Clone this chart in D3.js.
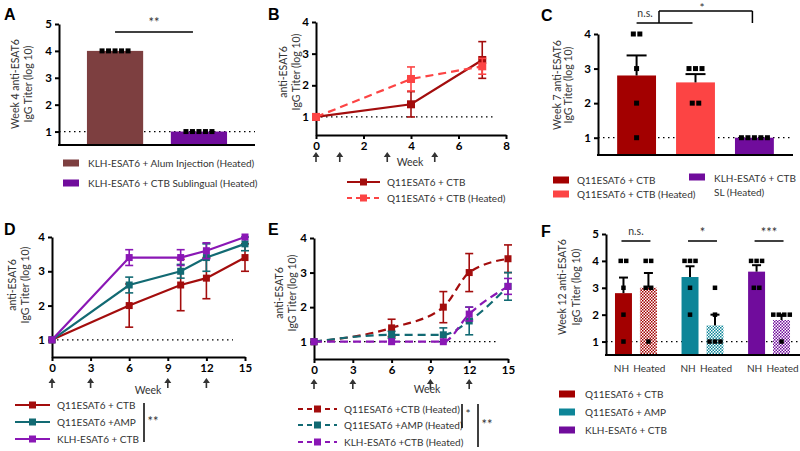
<!DOCTYPE html>
<html lang="en">
<head>
<meta charset="UTF-8">
<title>anti-ESAT6 IgG titers</title>
<script src="https://d3js.org/d3.v7.min.js"></script>
<style>
  body { margin: 0; background: #fff; }
  svg { display: block; font-family: Lato, sans-serif; }
  .tick text { font-weight: bold; font-size: 11.5px; fill: #000; font-family: Lato, sans-serif; }
  .lab { font-size: 10.5px; fill: #333; }
  .leg { font-size: 10px; fill: #333; }
  .panel { font-size: 16px; font-weight: bold; font-family: 'Liberation Sans', Arial, sans-serif; }
</style>
</head>
<body>
<div id="chart"></div>
<script>
// ---- data ----
const aGroups = ["KLH-ESAT6 + Alum Injection (Heated)", "KLH-ESAT6 + CTB Sublingual (Heated)"];
const aMeans = [4, 1];
const aPoints = [[4, 4, 4, 4, 4], [1, 1, 1, 1, 1]];
const aColors = ["#7d3f40", "#700c9c"];

const bWeeks = [0, 4, 7];
const bSeries = ["Q11ESAT6 + CTB", "Q11ESAT6 + CTB (Heated)"];
const bMeans = [[1, 1.4, 2.8], [1, 2.2, 2.6]];
const bErr = [[0, 0.4, 0.58], [0, 0.38, 0.25]];
const bColors = ["#a30d0d", "#fc4444"];
const bArrows = [0, 1, 3, 5];

const cGroups = ["Q11ESAT6 + CTB", "Q11ESAT6 + CTB (Heated)", "KLH-ESAT6 + CTB SL (Heated)"];
const cMeans = [2.8, 2.6, 1.0];
const cErr = [0.58, 0.24, 0];
const cPoints = [[4, 4, 3, 2, 1], [3, 3, 3, 2, 2], [1, 1, 1, 1, 1]];
const cColors = ["#a30000", "#fc4444", "#700c9c"];

const dWeeks = [0, 6, 10, 12, 15];
const dSeries = ["Q11ESAT6 + CTB", "Q11ESAT6 +AMP", "KLH-ESAT6 + CTB"];
const dMeans = [[1, 2, 2.6, 2.8, 3.4], [1, 2.6, 3.0, 3.4, 3.8], [1, 3.4, 3.4, 3.6, 4.0]];
const dErr = [[0, 0.63, 0.75, 0.6, 0.4], [0, 0.23, 0.2, 0.4, 0.2], [0, 0.23, 0.23, 0.23, 0]];

const eSeries = ["Q11ESAT6 +CTB (Heated)", "Q11ESAT6 +AMP (Heated)", "KLH-ESAT6 +CTB (Heated)"];
const eMeans = [[1, 1.4, 2.0, 3.0, 3.4], [1, 1.2, 1.2, 1.6, 2.6], [1, 1.0, 1.0, 1.8, 2.6]];
const eErr = [[0, 0.25, 0.45, 0.55, 0.4], [0, 0.1, 0.2, 0.4, 0.4], [0, 0, 0, 0.2, 0.23]];
const deColors = ["#a30d0d", "#126a73", "#8a17b5"];
const deArrows = [0, 3, 9, 12];

const fGroups = ["Q11ESAT6 + CTB", "Q11ESAT6 + AMP", "KLH-ESAT6 + CTB"];
const fConds = ["NH", "Heated"];
const fNH = [2.8, 3.4, 3.6];
const fNHErr = [0.58, 0.4, 0.24];
const fHeated = [3.0, 1.6, 1.8];
const fHeatedErr = [0.55, 0.4, 0.2];
const fNHPoints = [[4, 4, 3, 2, 1], [4, 4, 4, 3, 2], [4, 4, 4, 3, 3]];
const fHeatedPoints = [[4, 4, 3, 3, 1], [3, 2, 1, 1, 1], [2, 2, 2, 2, 1]];
const fSig = ["n.s.", "*", "***"];
const fColors = ["#a30000", "#0d8598", "#700c9c"];

// ---- helpers ----
const svg = d3.select("#chart").append("svg").attr("width", 800).attr("height", 451);
const defs = svg.append("defs");

function leftAxis(x0, y, ticks) {
  const g = svg.append("g").attr("transform", `translate(${x0},0)`)
    .call(d3.axisLeft(y).tickValues(ticks).tickFormat(d3.format("d")).tickSize(4).tickSizeOuter(0));
  g.select(".domain").attr("stroke-width", 2);
  g.selectAll(".tick line").attr("stroke-width", 2);
  g.selectAll(".tick text").attr("x", -7);
}

function baseLine(x0, x1, yv) {
  svg.append("line").attr("x1", x0).attr("x2", x1).attr("y1", yv).attr("y2", yv)
    .attr("stroke", "#000").attr("stroke-width", 2);
}

function dottedOne(x0, x1, y) {
  svg.append("line").attr("x1", x0).attr("x2", x1).attr("y1", y(1)).attr("y2", y(1))
    .attr("stroke", "#000").attr("stroke-width", 1.3).attr("stroke-dasharray", "1.5,3.5");
}

function yLabel(lines, xs, cy) {
  lines.forEach((l, i) => {
    svg.append("text").attr("class", "lab")
      .attr("transform", `translate(${xs[i]},${cy}) rotate(-90)`)
      .attr("text-anchor", "middle").text(l);
  });
}

function panelLetter(t, x, y) {
  svg.append("text").attr("class", "panel").attr("x", x).attr("y", y).text(t);
}

function dots(cx, vals, y, size, gap) {
  const counts = d3.rollup(vals, v => v.length, d => d);
  const pts = [];
  counts.forEach((n, v) => {
    for (let i = 0; i < n; i++) pts.push({ x: cx + (i - (n - 1) / 2) * gap, y: y(v) });
  });
  svg.append("g").selectAll("rect").data(pts).join("rect")
    .attr("x", d => d.x - size / 2).attr("y", d => d.y - size / 2)
    .attr("width", size).attr("height", size).attr("fill", "#000");
}

function barErr(cx, mean, err, y, capW) {
  if (!err) return;
  const g = svg.append("g").attr("stroke", "#000").attr("stroke-width", 2);
  g.append("line").attr("x1", cx).attr("x2", cx).attr("y1", y(mean)).attr("y2", y(mean + err));
  g.append("line").attr("x1", cx - capW / 2).attr("x2", cx + capW / 2).attr("y1", y(mean + err)).attr("y2", y(mean + err));
}

function arrows(x, weeks, top) {
  svg.append("g").selectAll("path").data(weeks).join("path")
    .attr("d", w => {
      const cx = x(w);
      return `M${cx},${top}L${cx + 3.5},${top + 5}L${cx + 0.8},${top + 5}L${cx + 0.8},${top + 10}L${cx - 0.8},${top + 10}L${cx - 0.8},${top + 5}L${cx - 3.5},${top + 5}Z`;
    })
    .attr("fill", "#333");
}

function sigText(t, x, yv, size) {
  svg.append("text").attr("x", x).attr("y", yv).attr("text-anchor", "middle")
    .attr("font-size", size || 12).attr("fill", "#333").text(t);
}

function hLine(x1, x2, y1, y2, w) {
  svg.append("line").attr("x1", x1).attr("x2", x2).attr("y1", y1).attr("y2", y2)
    .attr("stroke", "#000").attr("stroke-width", w || 1.5);
}

function linePanel(o) {
  const x = d3.scaleLinear().domain(o.xDomain).range(o.xRange);
  const y = d3.scaleLinear().domain(o.yDomain).range(o.yRange);
  dottedOne(o.xRange[0], o.xRange[1] - 12, y);
  const xg = svg.append("g").attr("transform", `translate(0,${o.yRange[0]})`)
    .call(d3.axisBottom(x).tickValues(o.xTicks).tickSize(4).tickSizeOuter(0));
  xg.select(".domain").attr("stroke-width", 2);
  xg.selectAll(".tick line").attr("stroke-width", 2);
  xg.selectAll(".tick text").attr("y", 7);
  leftAxis(o.xRange[0], y, o.yTicks);
  arrows(x, o.arrows, o.arrowTop);
  svg.append("text").attr("class", "lab").attr("font-size", 11).attr("x", o.weekX).attr("y", o.weekY)
    .attr("text-anchor", "middle").text("Week");

  const line = d3.line().x((d, i) => x(o.weeks[i])).y(d => y(d)).curve(o.curve || d3.curveLinear);
  o.means.forEach((m, s) => {
    const col = o.colors[s];
    const g = svg.append("g");
    const eb = g.append("g").attr("stroke", col).attr("stroke-width", 1.6);
    m.forEach((v, i) => {
      const e = o.errs[s][i];
      if (!e) return;
      const cx = x(o.weeks[i]);
      eb.append("line").attr("x1", cx).attr("x2", cx).attr("y1", y(v - e)).attr("y2", y(v + e));
      eb.append("line").attr("x1", cx - 4).attr("x2", cx + 4).attr("y1", y(v - e)).attr("y2", y(v - e));
      eb.append("line").attr("x1", cx - 4).attr("x2", cx + 4).attr("y1", y(v + e)).attr("y2", y(v + e));
    });
    g.append("path").datum(m).attr("d", line).attr("fill", "none").attr("stroke", col)
      .attr("stroke-width", 2.2).attr("stroke-dasharray", o.dashed[s] ? "8,5" : null);
    g.selectAll("rect").data(m).join("rect")
      .attr("x", (d, i) => x(o.weeks[i]) - o.marker / 2).attr("y", d => y(d) - o.marker / 2)
      .attr("width", o.marker).attr("height", o.marker).attr("fill", col);
  });

  // legend
  o.labels.forEach((l, s) => {
    const ly = o.legY[s], col = o.colors[s];
    svg.append("line").attr("x1", o.legX).attr("x2", o.legX + o.legW).attr("y1", ly).attr("y2", ly)
      .attr("stroke", col).attr("stroke-width", 2.2).attr("stroke-dasharray", o.dashed[s] ? "5,4" : null);
    svg.append("rect").attr("x", o.legX + o.legW / 2 - 3.5).attr("y", ly - 3.5).attr("width", 7).attr("height", 7).attr("fill", col);
    svg.append("text").attr("class", "leg").attr("x", o.legX + o.legW + 7).attr("y", ly).attr("dy", "0.35em").text(l);
  });
}

function swatchLegend(labels, colors, x, ys, tx) {
  labels.forEach((l, i) => {
    svg.append("rect").attr("x", x).attr("y", ys[i] - 3.5).attr("width", 16).attr("height", 7).attr("fill", colors[i]);
    svg.append("text").attr("class", "leg").attr("x", tx).attr("y", ys[i]).attr("dy", "0.35em").text(l);
  });
}

// ---- Panel A ----
{
  const y = d3.scaleLinear().domain([0.5, 5]).range([145, 24]);
  const x = d3.scaleBand().domain(aGroups).range([59, 255]).paddingInner(0.33).paddingOuter(0.333);
  dottedOne(59, 255, y);
  svg.append("g").selectAll("rect").data(aGroups).join("rect")
    .attr("x", d => x(d)).attr("width", x.bandwidth())
    .attr("y", (d, i) => y(aMeans[i])).attr("height", (d, i) => y(0.5) - y(aMeans[i]))
    .attr("fill", (d, i) => aColors[i]);
  aGroups.forEach((g, i) => dots(x(g) + x.bandwidth() / 2, aPoints[i], y, 5, 6.5));
  leftAxis(59, y, [1, 2, 3, 4, 5]);
  baseLine(58, 255, 145);
  const c0 = x(aGroups[0]) + x.bandwidth() / 2, c1 = x(aGroups[1]) + x.bandwidth() / 2;
  hLine(c0, c1 - 6, 32, 32);
  sigText("**", (c0 + c1) / 2 - 3, 27, 13);
  yLabel(["Week 4 anti-ESAT6", "IgG Titer (log 10)"], [19, 32], 84);
  swatchLegend(aGroups, aColors, 63, [163, 183], 88);
  panelLetter("A", 4, 20);
}

// ---- Panel B ----
linePanel({
  xDomain: [0, 8], xRange: [316, 506], yDomain: [0.43, 4], yRange: [135, 22],
  xTicks: [0, 2, 4, 6, 8], yTicks: [1, 2, 3, 4],
  weeks: bWeeks, means: bMeans, errs: bErr, colors: bColors, dashed: [false, true],
  arrows: bArrows, arrowTop: 152, weekX: 410, weekY: 166, marker: 8,
  labels: bSeries, legX: 347, legW: 33, legY: [182, 198]
});
panelLetter("B", 268, 20);
yLabel(["anti-ESAT6", "IgG Titer (log 10)"], [287, 300], 72);

// ---- Panel C ----
{
  const y = d3.scaleLinear().domain([0.5, 4]).range([155, 34]);
  const x = d3.scaleBand().domain(cGroups).range([598, 793]).paddingInner(0.34).paddingOuter(0.325);
  dottedOne(598, 793, y);
  svg.append("g").selectAll("rect").data(cGroups).join("rect")
    .attr("x", d => x(d)).attr("width", x.bandwidth())
    .attr("y", (d, i) => y(cMeans[i])).attr("height", (d, i) => y(0.5) - y(cMeans[i]))
    .attr("fill", (d, i) => cColors[i]);
  cGroups.forEach((g, i) => {
    const cx = x(g) + x.bandwidth() / 2;
    barErr(cx, cMeans[i], cErr[i], y, 20);
    dots(cx, cPoints[i], y, 5, 6.5);
  });
  leftAxis(598, y, [1, 2, 3, 4]);
  baseLine(597, 793, 155);
  const cs = cGroups.map(g => x(g) + x.bandwidth() / 2);
  hLine(cs[0], cs[1] - 3, 23, 23);
  hLine(659, 659, 23, 11);
  hLine(659, cs[2] - 2, 11, 11);
  hLine(cs[2] - 2, cs[2] - 2, 11, 23);
  sigText("n.s.", 645, 17, 10.5);
  sigText("*", 702, 12, 12);
  yLabel(["Week 7 anti-ESAT6", "IgG Titer (log 10)"], [561, 572], 85);
  swatchLegend(cGroups.slice(0, 2), cColors.slice(0, 2), 553, [180, 194], 577);
  svg.append("rect").attr("x", 689).attr("y", 173.5).attr("width", 16).attr("height", 7).attr("fill", cColors[2]);
  svg.append("text").attr("class", "leg").attr("x", 714).attr("y", 178).attr("dy", "0.35em").text("KLH-ESAT6 + CTB");
  svg.append("text").attr("class", "leg").attr("x", 714).attr("y", 192).attr("dy", "0.35em").text("SL (Heated)");
  panelLetter("C", 541, 21);
}

// ---- Panel D ----
linePanel({
  xDomain: [0, 15], xRange: [52, 245], yDomain: [0.5, 4], yRange: [357, 237],
  xTicks: [0, 3, 6, 9, 12, 15], yTicks: [1, 2, 3, 4],
  weeks: dWeeks, means: dMeans, errs: dErr, colors: deColors, dashed: [false, false, false],
  arrows: deArrows, arrowTop: 378, weekX: 148, weekY: 394, marker: 7,
  labels: dSeries, legX: 15, legW: 35, legY: [405, 422, 439]
});
panelLetter("D", 4, 235);
yLabel(["anti-ESAT6", "IgG Titer (log 10)"], [16, 29], 285);
hLine(144, 144, 403, 442, 1.5);
sigText("**", 153, 426, 13);

// ---- Panel E ----
linePanel({
  xDomain: [0, 15], xRange: [314, 508], yDomain: [0.5, 4], yRange: [359, 238],
  xTicks: [0, 3, 6, 9, 12, 15], yTicks: [1, 2, 3, 4],
  weeks: dWeeks, means: eMeans, errs: eErr, colors: deColors, dashed: [true, true, true],
  arrows: deArrows, arrowTop: 379, weekX: 427, weekY: 393, marker: 7, curve: d3.curveMonotoneX,
  labels: eSeries, legX: 298, legW: 39, legY: [409, 425, 442]
});
panelLetter("E", 268, 235);
yLabel(["anti-ESAT6", "IgG Titer (log 10)"], [283, 296], 293);
hLine(462, 462, 404, 428, 1.5);
sigText("*", 468, 418, 12);
hLine(478, 478, 404, 447, 1.5);
sigText("**", 487, 429, 13);

// ---- Panel F ----
{
  const y = d3.scaleLinear().domain([0.5, 5]).range([355, 234]);
  const x0 = d3.scaleBand().domain(fGroups).range([606, 799]).paddingInner(0.37).paddingOuter(0.135);
  const x1 = d3.scaleBand().domain(fConds).range([0, x0.bandwidth()]).paddingInner(0.32);
  fColors.forEach((c, i) => {
    const p = defs.append("pattern").attr("id", "chk" + i).attr("patternUnits", "userSpaceOnUse")
      .attr("width", 3).attr("height", 3);
    p.append("rect").attr("width", 3).attr("height", 3).attr("fill", "#fff");
    p.append("rect").attr("width", 1.5).attr("height", 1.5).attr("fill", c);
    p.append("rect").attr("x", 1.5).attr("y", 1.5).attr("width", 1.5).attr("height", 1.5).attr("fill", c);
  });
  dottedOne(606, 800, y);
  fGroups.forEach((g, i) => {
    const vals = [fNH[i], fHeated[i]], errs = [fNHErr[i], fHeatedErr[i]], pts = [fNHPoints[i], fHeatedPoints[i]];
    fConds.forEach((c, j) => {
      const bx = x0(g) + x1(c), cx = bx + x1.bandwidth() / 2;
      svg.append("rect").attr("x", bx).attr("width", x1.bandwidth())
        .attr("y", y(vals[j])).attr("height", y(0.5) - y(vals[j]))
        .attr("fill", j === 0 ? fColors[i] : `url(#chk${i})`);
      barErr(cx, vals[j], errs[j], y, 9);
      dots(cx, pts[j], y, 4.5, 5.5);
      svg.append("text").attr("class", "leg").attr("font-size", 11).attr("x", cx + (j === 0 ? -2 : 1)).attr("y", 368)
        .attr("dy", "0.35em").attr("text-anchor", "middle").text(c);
    });
    const cA = x0(g) + x1("NH") + x1.bandwidth() / 2, cB = x0(g) + x1("Heated") + x1.bandwidth() / 2;
    hLine(cA - 2, cB + 2, 241, 241);
    sigText(fSig[i], (cA + cB) / 2, fSig[i] === "n.s." ? 235 : 237, fSig[i] === "n.s." ? 10.5 : 13);
  });
  leftAxis(606, y, [1, 2, 3, 4, 5]);
  baseLine(605, 800, 355);
  yLabel(["Week 12 anti-ESAT6", "IgG Titer (log 10)"], [566, 580], 287);
  swatchLegend(fGroups, fColors, 559, [394, 412, 430], 585);
  panelLetter("F", 541, 237);
}
</script>
</body>
</html>
